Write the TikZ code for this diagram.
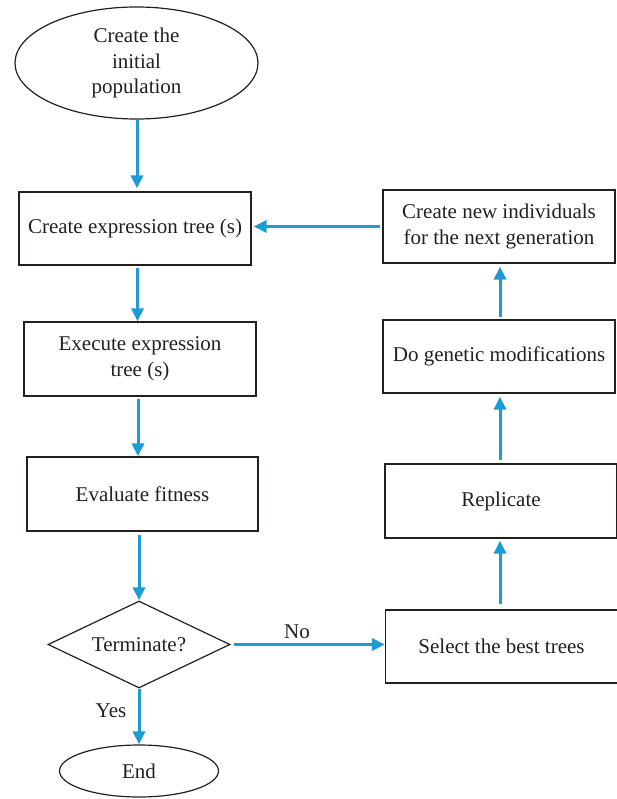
\documentclass[tikz,border=0pt]{standalone}
\usepackage{fontspec}
\setmainfont{Liberation Serif}
\usetikzlibrary{shapes.geometric,arrows.meta}
\definecolor{arrowblue}{RGB}{30,155,215}
\definecolor{inkdark}{RGB}{35,31,32}
\begin{document}
\begin{tikzpicture}[x=1pt,y=-1pt,
  every node/.style={font=\fontsize{21}{25.8}\selectfont, text=inkdark, align=center},
  boxnode/.style={draw=inkdark, line width=1.2pt, rectangle, inner sep=0pt, minimum width=232pt, minimum height=73pt},
  ellnode/.style={draw=inkdark, line width=1.2pt, ellipse, inner sep=0pt},
  decnode/.style={draw=inkdark, line width=1.2pt, diamond, inner sep=0pt, aspect=2.09},
  flow/.style={draw=arrowblue, line width=3pt, -{Triangle[length=13pt,width=12pt]}},
  lbl/.style={inner sep=0pt}]
\useasboundingbox (0,0) rectangle (616,799);

\node[ellnode, minimum width=243pt, minimum height=112pt] (start) at (136.5,63) {Create the\\initial\\population};
\node[boxnode] (cet) at (135,228.5) {Create expression tree (s)};
\node[boxnode, minimum height=74pt] (exe) at (140,359) {Execute expression\\tree (s)};
\node[boxnode, minimum width=231pt, minimum height=74pt] (eval) at (142.5,494) {Evaluate fitness};
\node[decnode, minimum width=182pt, minimum height=87pt] (term) at (139,644.5) {Terminate?};
\node[ellnode, minimum width=159pt, minimum height=52pt] (stop) at (139,771) {End};

\node[boxnode] (newind) at (499,226.5) {Create new individuals\\for the next generation};
\node[boxnode] (genmod) at (499,356.5) {Do genetic modifications};
\node[boxnode, minimum height=74pt] (repl) at (501,501) {Replicate};
\node[boxnode] (sel) at (501.5,646.5) {Select the best trees};

\draw[flow, shorten >=3pt] (start.south -| 137,0) -- (cet.north -| 137,0);
\draw[flow, shorten <=2pt] (cet.south -| 137.5,0) -- (exe.north -| 137.5,0);
\draw[flow, shorten <=2pt] (exe.south -| 138,0) -- (eval.north -| 138,0);
\draw[flow, shorten <=3pt] (eval.south -| 139,0) -- (term.north);
\draw[flow] (term.south) -- (stop.north);
\draw[flow, shorten <=3pt] (term.east) -- (sel.west |- term.east);
\draw[flow, shorten <=5pt, shorten >=2pt] (sel.north -| 500,0) -- (repl.south -| 500,0);
\draw[flow, shorten <=3pt, shorten >=3pt] (repl.north -| 500,0) -- (genmod.south -| 500,0);
\draw[flow, shorten <=2pt, shorten >=3pt] (genmod.north -| 500,0) -- (newind.south -| 500,0);
\draw[flow, shorten <=2pt, shorten >=2pt] (newind.west) -- (cet.east |- newind.west);

\node[lbl] (yes) at (111,711) {Yes};
\node[lbl] (no) at (297,632) {No};
\end{tikzpicture}
\end{document}
